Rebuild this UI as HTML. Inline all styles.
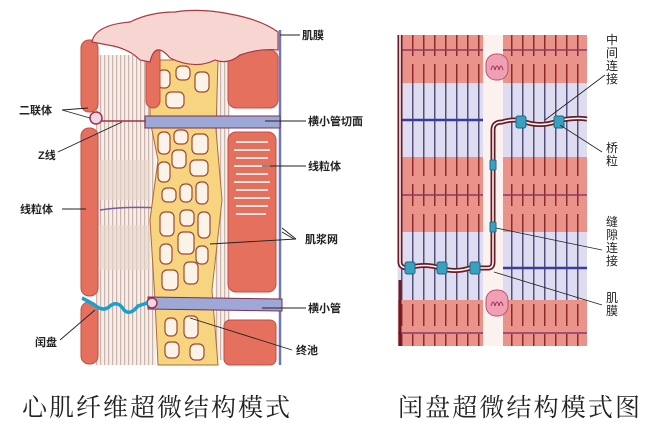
<!DOCTYPE html>
<html><head><meta charset="utf-8"><style>
html,body{margin:0;padding:0;background:#fff;width:650px;height:432px;overflow:hidden}
svg{display:block}
.l{font-family:"Liberation Sans","Noto Sans CJK SC",sans-serif;font-size:11px;font-weight:bold;fill:#222}
.v{font-family:"Liberation Sans","Noto Sans CJK SC",sans-serif;font-size:12px;fill:#222}
.c{font-family:"Liberation Serif","Noto Serif CJK SC",serif;font-size:25px;fill:#222}
</style></head><body>
<svg width="650" height="432" viewBox="0 0 650 432" xmlns="http://www.w3.org/2000/svg">
<defs>
<pattern id="fib" width="4" height="10" patternUnits="userSpaceOnUse"><rect width="4" height="10" fill="#f6efe9"/><rect x="0" width="1.2" height="10" fill="#c9b3aa"/></pattern>
<pattern id="rv" width="11" height="30" patternUnits="userSpaceOnUse"><rect width="11" height="30" fill="#e9938a"/><rect x="5" y="4" width="1.5" height="22" fill="#8e2a2a"/></pattern>
<pattern id="lv" width="11" height="30" patternUnits="userSpaceOnUse"><rect width="11" height="30" fill="#dedcf0"/><rect x="5" y="0" width="1.5" height="30" fill="#55507a"/></pattern>
</defs>
<rect width="650" height="432" fill="#fff"/>
<!-- LEFT DIAGRAM -->
<rect x="96" y="55" width="60" height="310" fill="url(#fib)"/>
<rect x="100" y="160" width="50" height="40" fill="#e8d6cc" opacity=".6"/>
<rect x="100" y="225" width="50" height="45" fill="#e8d6cc" opacity=".6"/>
<rect x="215" y="60" width="15" height="300" fill="url(#fib)"/>
<path d="M100 210 Q125 206 160 208 Q190 212 215 215" stroke="#7a5aa0" stroke-width="1.5" fill="none"/>
<path d="M150 60 L218 60 L216 130 L222 200 L212 290 L218 365 L158 365 L155 300 L150 220 L158 160 L150 120 Z" fill="#f6d480" stroke="#b06a3a" stroke-width="1"/>
<g fill="#fbf3e8" stroke="#a04a30" stroke-width="1.2">
<rect x="158" y="70" width="12" height="18" rx="5"/><rect x="176" y="66" width="14" height="14" rx="5"/><rect x="195" y="72" width="14" height="20" rx="5"/><rect x="166" y="92" width="18" height="16" rx="5"/>
<rect x="158" y="132" width="12" height="22" rx="5"/><rect x="174" y="130" width="14" height="14" rx="5"/><rect x="192" y="134" width="16" height="20" rx="5"/><rect x="172" y="150" width="14" height="18" rx="5"/>
<rect x="158" y="162" width="12" height="20" rx="5"/><rect x="190" y="160" width="18" height="16" rx="5"/><rect x="162" y="188" width="14" height="14" rx="5"/><rect x="180" y="184" width="12" height="18" rx="5"/><rect x="196" y="182" width="12" height="22" rx="5"/>
<rect x="160" y="212" width="14" height="24" rx="5"/><rect x="180" y="210" width="14" height="16" rx="5"/><rect x="198" y="212" width="12" height="26" rx="5"/><rect x="178" y="232" width="16" height="22" rx="5"/>
<rect x="160" y="244" width="12" height="20" rx="5"/><rect x="196" y="246" width="12" height="18" rx="5"/><rect x="162" y="270" width="16" height="20" rx="5"/><rect x="184" y="262" width="14" height="22" rx="5"/>
<rect x="165" y="318" width="12" height="18" rx="5"/><rect x="184" y="316" width="14" height="22" rx="5"/><rect x="165" y="342" width="14" height="16" rx="5"/><rect x="190" y="344" width="14" height="16" rx="5"/>
</g>
<rect x="81" y="40" width="17" height="72" rx="8" fill="#e5705e" stroke="#c24d45"/>
<rect x="81" y="128" width="17" height="168" rx="8" fill="#e5705e" stroke="#c24d45"/>
<rect x="81" y="302" width="17" height="62" rx="8" fill="#e5705e" stroke="#c24d45"/>
<rect x="146" y="38" width="14" height="70" rx="7" fill="#e5705e" stroke="#c24d45"/>
<rect x="228" y="50" width="50" height="58" rx="8" fill="#e5705e" stroke="#c24d45"/>
<rect x="228" y="132" width="48" height="160" rx="8" fill="#e5705e" stroke="#c24d45"/>
<g stroke="#fbe5e0" stroke-width="2">
<line x1="236" y1="142" x2="268" y2="142"/><line x1="234" y1="150" x2="270" y2="150"/><line x1="236" y1="158" x2="268" y2="158"/><line x1="234" y1="166" x2="270" y2="166"/><line x1="236" y1="174" x2="268" y2="174"/><line x1="234" y1="182" x2="270" y2="182"/><line x1="236" y1="190" x2="268" y2="190"/><line x1="234" y1="198" x2="270" y2="198"/><line x1="236" y1="206" x2="268" y2="206"/><line x1="236" y1="214" x2="266" y2="214"/>
</g>
<rect x="224" y="320" width="52" height="45" rx="6" fill="#e5705e" stroke="#c24d45"/>
<path d="M92 42 Q95 25 130 22 Q150 12 175 12 Q200 8 230 14 Q262 20 278 32 L278 50 Q260 48 240 55 Q228 65 215 60 Q195 70 170 58 Q155 40 150 62 L140 60 Q128 48 108 45 Z" fill="#f7d6d2" stroke="#a83a44" stroke-width="1.2"/>
<path d="M280 30 L280 365" stroke="#6b7ab8" stroke-width="2.5" fill="none"/>
<path d="M145 116 L280 116 L280 128 L145 128 Z" fill="#9ea8d6" stroke="#7a3050" stroke-width="1"/>
<path d="M98 121 L146 121" stroke="#a0304a" stroke-width="1.5"/>
<circle cx="96" cy="118" r="6" fill="#f0d6e4" stroke="#a03050" stroke-width="1.5"/>
<path d="M148 297 L282 299 L282 311 L148 309 Z" fill="#9ea8d6" stroke="#7a3050" stroke-width="1"/>
<circle cx="152" cy="303" r="5" fill="#f0d6e4" stroke="#a03050" stroke-width="1.5"/>
<path d="M82 298 Q90 302 96 306 Q104 312 110 306 Q118 300 124 310 Q130 316 138 306 L147 303" stroke="#1aa0d0" stroke-width="3.5" fill="none"/>
<g stroke="#222" stroke-width="0.9">
<line x1="280" y1="35" x2="300" y2="35"/><line x1="265" y1="121" x2="306" y2="121"/><line x1="262" y1="166" x2="306" y2="166"/>
<line x1="210" y1="244" x2="296" y2="239"/><line x1="282" y1="228" x2="296" y2="239"/><line x1="282" y1="232" x2="294" y2="239"/>
<line x1="262" y1="308" x2="306" y2="308"/><line x1="190" y1="318" x2="292" y2="350"/>
<line x1="62" y1="110" x2="88" y2="108"/><line x1="62" y1="110" x2="90" y2="118"/>
<line x1="58" y1="152" x2="122" y2="122"/><line x1="62" y1="209" x2="86" y2="209"/><line x1="60" y1="340" x2="95" y2="310"/>
</g>
<text class="l" x="302" y="39">肌膜</text>
<text class="l" x="308" y="125">横小管切面</text>
<text class="l" x="308" y="170">线粒体</text>
<text class="l" x="305" y="243">肌浆网</text>
<text class="l" x="308" y="312">横小管</text>
<text class="l" x="296" y="354">终池</text>
<text class="l" x="19" y="114">二联体</text>
<text class="l" x="38" y="159">Z线</text>
<text class="l" x="20" y="213">线粒体</text>
<text class="l" x="35" y="346">闰盘</text>
<!-- RIGHT DIAGRAM -->
<rect x="397" y="35" width="190" height="311" fill="#fbf2ef"/>
<rect x="398" y="35" width="85" height="48" fill="url(#rv)"/><rect x="503" y="35" width="84" height="48" fill="url(#rv)"/>
<rect x="398" y="83" width="85" height="74" fill="url(#lv)"/><rect x="503" y="83" width="84" height="74" fill="url(#lv)"/>
<rect x="398" y="157" width="85" height="75" fill="url(#rv)"/><rect x="503" y="157" width="84" height="75" fill="url(#rv)"/>
<rect x="398" y="232" width="85" height="68" fill="url(#lv)"/><rect x="503" y="232" width="84" height="68" fill="url(#lv)"/>
<rect x="398" y="300" width="85" height="46" fill="url(#rv)"/><rect x="503" y="300" width="84" height="46" fill="url(#rv)"/>
<g stroke="#8a3a6a" stroke-width="1.5">
<line x1="398" y1="50" x2="483" y2="50"/><line x1="503" y1="50" x2="587" y2="50"/>
<line x1="398" y1="195" x2="483" y2="195"/><line x1="503" y1="195" x2="587" y2="195"/>
<line x1="398" y1="333" x2="483" y2="333"/><line x1="503" y1="333" x2="587" y2="333"/>
</g>
<g stroke="#3a3aa0" stroke-width="2.5">
<line x1="398" y1="120" x2="483" y2="120"/><line x1="503" y1="268" x2="587" y2="268"/>
</g>
<rect x="486" y="54" width="22" height="26" rx="10" fill="#f0a0b4" stroke="#c0506a"/>
<path d="M491 70 q2 -8 4 0 q2 -8 4 0 q2 -8 4 0" stroke="#a03050" fill="none"/>
<rect x="486" y="290" width="22" height="26" rx="10" fill="#f0a0b4" stroke="#c0506a"/>
<path d="M491 306 q2 -8 4 0 q2 -8 4 0 q2 -8 4 0" stroke="#a03050" fill="none"/>
<path d="M400 35 L400 262 Q400 268 408 268 Q425 263 440 268 Q455 273 470 268 L488 268 Q493 268 493 262 L493 130 Q493 122 502 122 Q515 118 525 122 Q540 127 555 122 Q570 117 587 119" stroke="#6a1a24" stroke-width="5" fill="none"/>
<path d="M400 280 L400 346" stroke="#6a1a24" stroke-width="3" fill="none"/>
<path d="M400 35 L400 262 Q400 268 408 268 Q425 263 440 268 Q455 273 470 268 L488 268 Q493 268 493 262 L493 130 Q493 122 502 122 Q515 118 525 122 Q540 127 555 122 Q570 117 587 119" stroke="#fff" stroke-width="1.5" fill="none"/>
<g fill="#3aa0c0" stroke="#1a6a8a">
<rect x="405" y="262" width="10" height="12" rx="2"/><rect x="437" y="262" width="10" height="12" rx="2"/><rect x="470" y="262" width="10" height="12" rx="2"/>
<rect x="516" y="116" width="10" height="12" rx="2"/><rect x="554" y="116" width="10" height="12" rx="2"/>
<rect x="490" y="160" width="6" height="10" rx="1"/><rect x="490" y="222" width="6" height="10" rx="1"/>
</g>
<g stroke="#222" stroke-width="0.8">
<line x1="545" y1="120" x2="605" y2="75"/><line x1="560" y1="125" x2="602" y2="152"/>
<line x1="496" y1="228" x2="602" y2="250"/><line x1="494" y1="272" x2="602" y2="305"/>
</g>
<g class="v" text-anchor="middle">
<text x="612" y="44">中</text><text x="612" y="57">间</text><text x="612" y="70">连</text><text x="612" y="83">接</text>
<text x="612" y="152">桥</text><text x="612" y="165">粒</text>
<text x="612" y="226">缝</text><text x="612" y="239">隙</text><text x="612" y="252">连</text><text x="612" y="265">接</text>
<text x="612" y="302">肌</text><text x="612" y="315">膜</text>
</g>
<text class="c" x="22" y="416" textLength="268">心肌纤维超微结构模式</text>
<text class="c" x="398" y="416" textLength="242">闰盘超微结构模式图</text>
</svg>
</body></html>
